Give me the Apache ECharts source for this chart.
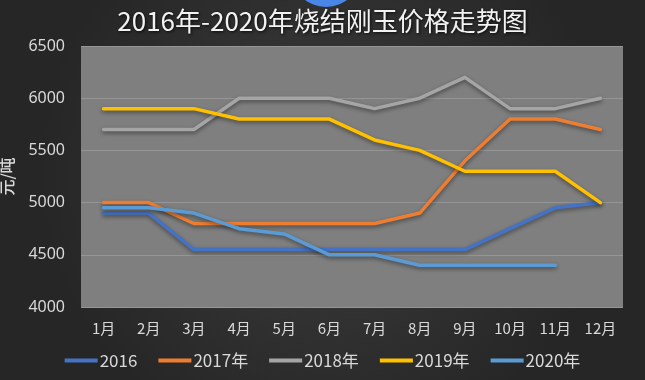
<!DOCTYPE html>
<html>
<head>
<meta charset="utf-8">
<script src="https://cdn.jsdelivr.net/npm/echarts@6/dist/echarts.min.js"></script>
<style>
html,body{margin:0;padding:0;background:#2e2e2e;}
#c{width:645px;height:380px;}
</style>
</head>
<body>
<div id="c"></div>
<script>
const titleText = '2016年-2020年烧结刚玉价格走势图';
const yName = '元/吨';
const months = ['1月','2月','3月','4月','5月','6月','7月','8月','9月','10月','11月','12月'];
const seriesNames = ['2016','2017年','2018年','2019年','2020年'];
const s2016 = [4900,4900,4550,4550,4550,4550,4550,4550,4550,4750,4950,5000];
const s2017 = [5000,5000,4800,4800,4800,4800,4800,4900,5400,5800,5800,5700];
const s2018 = [5700,5700,5700,6000,6000,6000,5900,6000,6200,5900,5900,6000];
const s2019 = [5900,5900,5900,5800,5800,5800,5600,5500,5300,5300,5300,5000];
const s2020 = [4950,4950,4900,4750,4700,4500,4500,4400,4400,4400,4400,null];
const colors = ['#4472C4','#ED7D31','#A5A5A5','#FFC000','#5B9BD5'];
const allData = [s2016,s2017,s2018,s2019,s2020];

const chart = echarts.init(document.getElementById('c'));
chart.setOption({
  backgroundColor: {
    type:'radial', x:0.5, y:0.45, r:0.75,
    colorStops:[{offset:0,color:'#3d3d3d'},{offset:1,color:'#262626'}]
  },
  animation:false,
  title:{
    text:titleText, left:'center', top:3,
    textStyle:{color:'#f2f2f2', fontSize:26, fontWeight:'normal',
      fontFamily:'Noto Sans CJK SC',
      textShadowColor:'rgba(0,0,0,0.8)', textShadowBlur:3, textShadowOffsetX:1, textShadowOffsetY:1}
  },
  graphic:[{type:'circle', shape:{cx:326, cy:-28, r:35}, style:{fill:'#4a86e8'}, z:100}],
  grid:{left:81, right:22, top:46, bottom:73, show:true, backgroundColor:'#7f7f7f', borderWidth:0,
    containLabel:false, outerBoundsMode:'none'},
  legend:{
    data:seriesNames, bottom:6, left:'center',
    itemWidth:33, itemHeight:4, itemGap:21,
    icon:'rect',
    textStyle:{color:'#d9d9d9', fontSize:17, fontFamily:'Noto Sans CJK SC', padding:[0,0,0,-3]}
  },
  xAxis:{
    type:'category', data:months, boundaryGap:true,
    axisLine:{show:false}, axisTick:{show:false},
    axisLabel:{color:'#d9d9d9', fontSize:15, margin:14, fontFamily:'Noto Sans CJK SC'}
  },
  yAxis:{
    type:'value', min:4000, max:6500, interval:500,
    name:yName, nameLocation:'middle', nameGap:66, nameRotate:90,
    nameTextStyle:{color:'#d9d9d9', fontSize:16, fontWeight:500, fontFamily:'Noto Sans CJK SC'},
    axisLine:{show:false}, axisTick:{show:false},
    axisLabel:{color:'#d9d9d9', fontSize:16, margin:16, fontFamily:'Noto Sans',
      formatter:(v)=>String(v)},
    splitLine:{lineStyle:{color:'#959595', width:1}}
  },
  series: seriesNames.map((n,i)=>({
    name:n, type:'line', data:allData[i], symbol:'none',
    itemStyle:{color:colors[i]},
    lineStyle:{color:colors[i], width:3.5, cap:'round', join:'round',
      shadowColor:'rgba(0,0,0,0.45)', shadowBlur:4, shadowOffsetY:2}
  }))
});
</script>
</body>
</html>
